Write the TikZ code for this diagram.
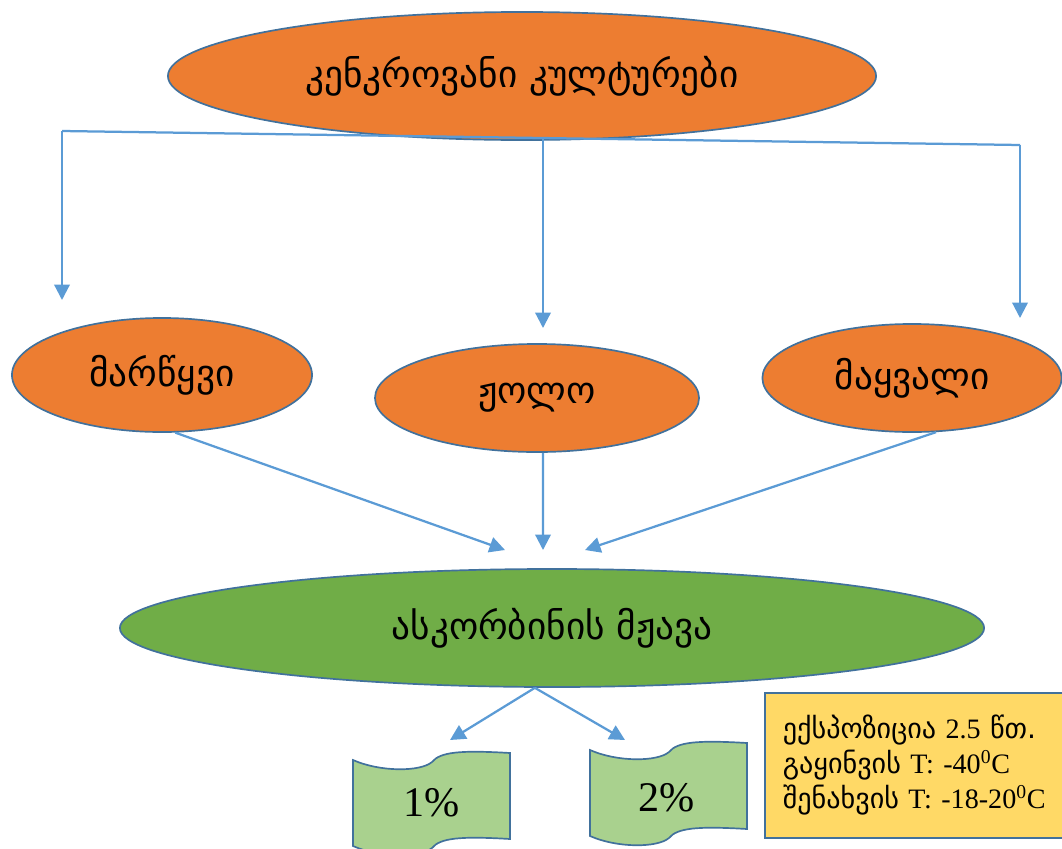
\documentclass[tikz,border=0pt]{standalone}
\usepackage{fontspec}
\setmainfont{Liberation Serif}
\newfontfamily\geo{DejaVu Sans}
\usetikzlibrary{shapes.geometric,arrows.meta}

\definecolor{cropor}{HTML}{ED7D31}
\definecolor{acidgr}{HTML}{70AD47}
\definecolor{flaggr}{HTML}{A9D18E}
\definecolor{noteyel}{HTML}{FFD966}
\definecolor{edgebl}{HTML}{41719C}
\definecolor{linkbl}{HTML}{5B9BD5}

\tikzset{
  crop/.style={ellipse, draw=edgebl, line width=1.2pt, fill=cropor, inner sep=0pt,
    font=\geo\fontsize{26.5}{30}\selectfont},
  acid/.style={crop, fill=acidgr},
  link/.style={draw=linkbl, line width=1.6pt},
  linkarr/.style={link, -{Triangle[length=11pt,width=11pt]}},
  wave/.pic={
    \draw [draw=edgebl, line width=1.2pt, fill=flaggr]
      (0,0) .. controls (27,12) and (67,12) .. (79,2)
      .. controls (87,-8) and (107,-10) .. (157,-7) -- (157,79)
      .. controls (107,76) and (87,78) .. (79,88)
      .. controls (67,98) and (27,98) .. (0,86) -- cycle;
  },
}

\begin{document}
\begin{tikzpicture}[x=0.025cm,y=-0.025cm]
  \useasboundingbox (0,0) rectangle (1062,848);

  %Berry crops
  \node [crop, minimum width=17.7cm, minimum height=3.2cm] (berry) at (522,76) {კენკროვანი კულტურები};

  %Branch line
  \coordinate (lt) at (62,131);
  \coordinate (mt) at (543,138);
  \coordinate (rt) at (1020,145);
  \draw [link] (lt) -- (rt);
  \coordinate (ltend) at (62,300);
  \coordinate (mtend) at (543,328);
  \coordinate (rtend) at (1020,318);
  \draw [linkarr] (lt) -- (ltend);
  \draw [linkarr] (mt) -- (mtend);
  \draw [linkarr] (rt) -- (rtend);

  %Strawberry, raspberry, blackberry
  \node [crop, minimum width=7.5cm,  minimum height=2.85cm] (straw) at (162,375) {მარწყვი};
  \node [crop, minimum width=8.1cm,  minimum height=2.7cm]  (rasp)  at (537,398) {ჟოლო};
  \node [crop, minimum width=7.48cm, minimum height=2.7cm]  (black) at (912,378) {მაყვალი};

  \coordinate (ain)  at (505,550);
  \coordinate (bin)  at (543,550);
  \coordinate (cin)  at (585,550);
  \draw [linkarr] (straw.-77) -- (ain);
  \draw [linkarr] ([xshift=0.15cm]rasp.south) -- (bin);
  \draw [linkarr] (black.-66) -- (cin);

  %Ascorbic acid
  \node [acid, minimum width=21.6cm, minimum height=2.95cm] (acid) at (552,628) {ასკორბინის მჟავა};

  \coordinate (pone) at (450,740);
  \coordinate (ptwo) at (625,740);
  \draw [linkarr] (acid.-106) -- (pone);
  \draw [linkarr] (acid.-106) -- (ptwo);

  %Concentrations
  \pic at (353,760) {wave};
  \pic at (590,750) {wave};
  \node [font=\fontsize{30}{33}\selectfont] (one) at (432,803) {1\%};
  \node [font=\fontsize{30}{33}\selectfont] (two) at (667,798) {2\%};

  %Conditions
  \node [draw=edgebl, line width=1.2pt, fill=noteyel, anchor=north west,
         minimum height=3.62cm, text width=7.0cm, align=left, inner xsep=0.45cm,
         font=\fontsize{20}{25}\selectfont] (cond) at (764,692)
    {\mbox{{\geo ექსპოზიცია} 2.5 {\geo წთ.}}\\
     \mbox{{\geo გაყინვის} T: -40\textsuperscript{0}C}\\
     \mbox{{\geo შენახვის} T: -18-20\textsuperscript{0}C}};
\end{tikzpicture}
\end{document}
